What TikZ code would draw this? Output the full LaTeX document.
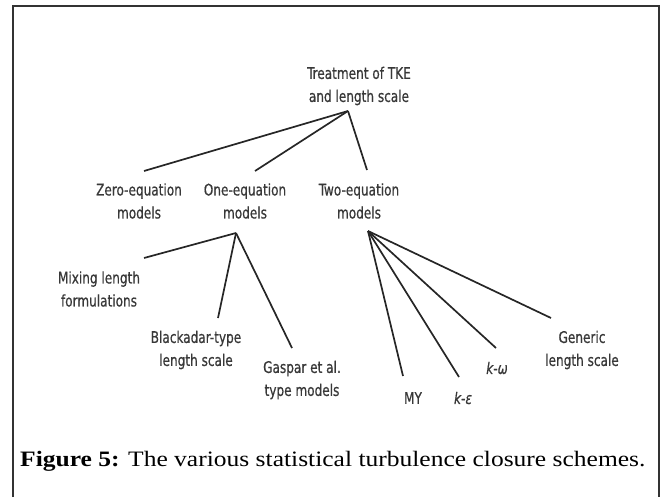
\documentclass[tikz,border=0pt]{standalone}
\usepackage{fontspec}
\newfontfamily\capfont[FakeStretch=1.16]{Liberation Serif}
\newfontfamily\diagfont[FakeStretch=0.84,FakeBold=0.6]{DejaVu Sans Condensed}
\begin{document}
\begin{tikzpicture}[x=1pt,y=-1pt,
  lbl/.style={font=\diagfont\fontsize{16}{23}\selectfont, text=black!78, align=center, inner sep=0pt},
  conn/.style={line width=1.7pt, black!85},
  frame/.style={line width=1.3pt, black!80}]
\useasboundingbox (0,0) rectangle (668,497);
\draw[frame] (13,497) -- (13,6) -- (659,6) -- (659,497);
% labels
\node[lbl] (root) at (359,86) {Treatment of TKE\\and length scale};
\node[lbl] (zero) at (139,201) {Zero-equation\\models};
\node[lbl] (one) at (245,201) {One-equation\\models};
\node[lbl] (two) at (359,201) {Two-equation\\models};
\node[lbl] (mix) at (99,289) {Mixing length\\formulations};
\node[lbl] (black) at (196,350) {Blackadar-type\\length scale};
\node[lbl] (gasp) at (302,380) {Gaspar et al.\\type models};
\node[lbl] (my) at (413,398) {MY};
\node[lbl] (ke) at (463,398) {\itshape k-ε};
\node[lbl] (kw) at (497,368) {\itshape k-ω};
\node[lbl] (gen) at (582,350) {Generic\\length scale};
% connector points
\coordinate (rootHub) at (348,111);
\coordinate (oneHub) at (236,233);
\coordinate (twoHub) at (368,231);
\coordinate (zeroTop) at (144,171);
\coordinate (oneTop) at (255,171);
\coordinate (twoTop) at (367,170);
\coordinate (mixEnd) at (144,258);
\coordinate (blackEnd) at (218,318);
\coordinate (gaspEnd) at (292,348);
\coordinate (myEnd) at (403,376);
\coordinate (keEnd) at (459,377);
\coordinate (kwEnd) at (496,348);
\coordinate (genEnd) at (551,318);
\draw[conn] (rootHub) -- (zeroTop);
\draw[conn] (rootHub) -- (oneTop);
\draw[conn] (rootHub) -- (twoTop);
\draw[conn] (oneHub) -- (mixEnd);
\draw[conn] (oneHub) -- (blackEnd);
\draw[conn] (oneHub) -- (gaspEnd);
\draw[conn] (twoHub) -- (myEnd);
\draw[conn] (twoHub) -- (keEnd);
\draw[conn] (twoHub) -- (kwEnd);
\draw[conn] (twoHub) -- (genEnd);
% caption
\node[anchor=base west, inner sep=0pt, font=\capfont\fontsize{22}{26}\selectfont] (cap) at (20,466) {\textbf{Figure 5:} The various statistical turbulence closure schemes.};
\end{tikzpicture}
\end{document}
